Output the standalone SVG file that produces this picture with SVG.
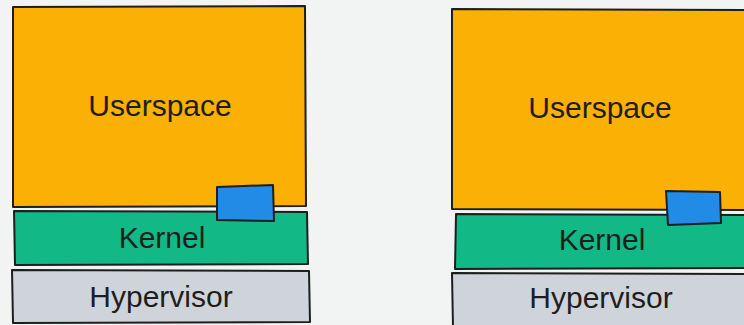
<svg xmlns="http://www.w3.org/2000/svg" width="744" height="325" viewBox="0 0 744 325">
<style>
.s{stroke:#1e1e1e;stroke-width:2;stroke-linejoin:round;stroke-linecap:round}
.u{fill:#fab005}
.k{fill:#12b886}
.h{fill:#ced4da}
.b{fill:#228be6}
.t{font-family:"Liberation Sans",Arial,sans-serif;font-size:30px;fill:#1e1e1e;text-anchor:middle}
</style>
<rect width="744" height="325" fill="#f2f3f3"/>
<g id="left">
<g id="l-user"><path class="s u" d="M13 7 L305 6 L306 206 L13 207 Z"/><text class="t" x="160" y="116">Userspace</text></g>
<g id="l-kernel"><path class="s k" d="M14 211 L307 212 L308 264 L15 265 Z"/><text class="t" x="162" y="248">Kernel</text></g>
<g id="l-hyper"><path class="s h" d="M12 270 L309 271 L310 322 L13 323 Z"/><text class="t" x="161" y="307">Hypervisor</text></g>
<g id="l-blue"><path class="s b" d="M217 187 L273 185 L274 221 L217 220 Z"/></g>
</g>
<g id="right">
<g id="r-user"><path class="s u" d="M452 9 L746 10 L746 210 L452 209 Z"/><text class="t" x="600" y="118">Userspace</text></g>
<g id="r-kernel"><path class="s k" d="M456 214 L746 215 L746 268 L455 269 Z"/><text class="t" x="602" y="250">Kernel</text></g>
<g id="r-hyper"><path class="s h" d="M452 273 L746 274 L746 327 L453 327 Z"/><text class="t" x="601" y="308">Hypervisor</text></g>
<g id="r-blue"><path class="s b" d="M666 191 L720 192 L721 223 L668 225 Z"/></g>
</g>
<g id="connectors"/>
</svg>
